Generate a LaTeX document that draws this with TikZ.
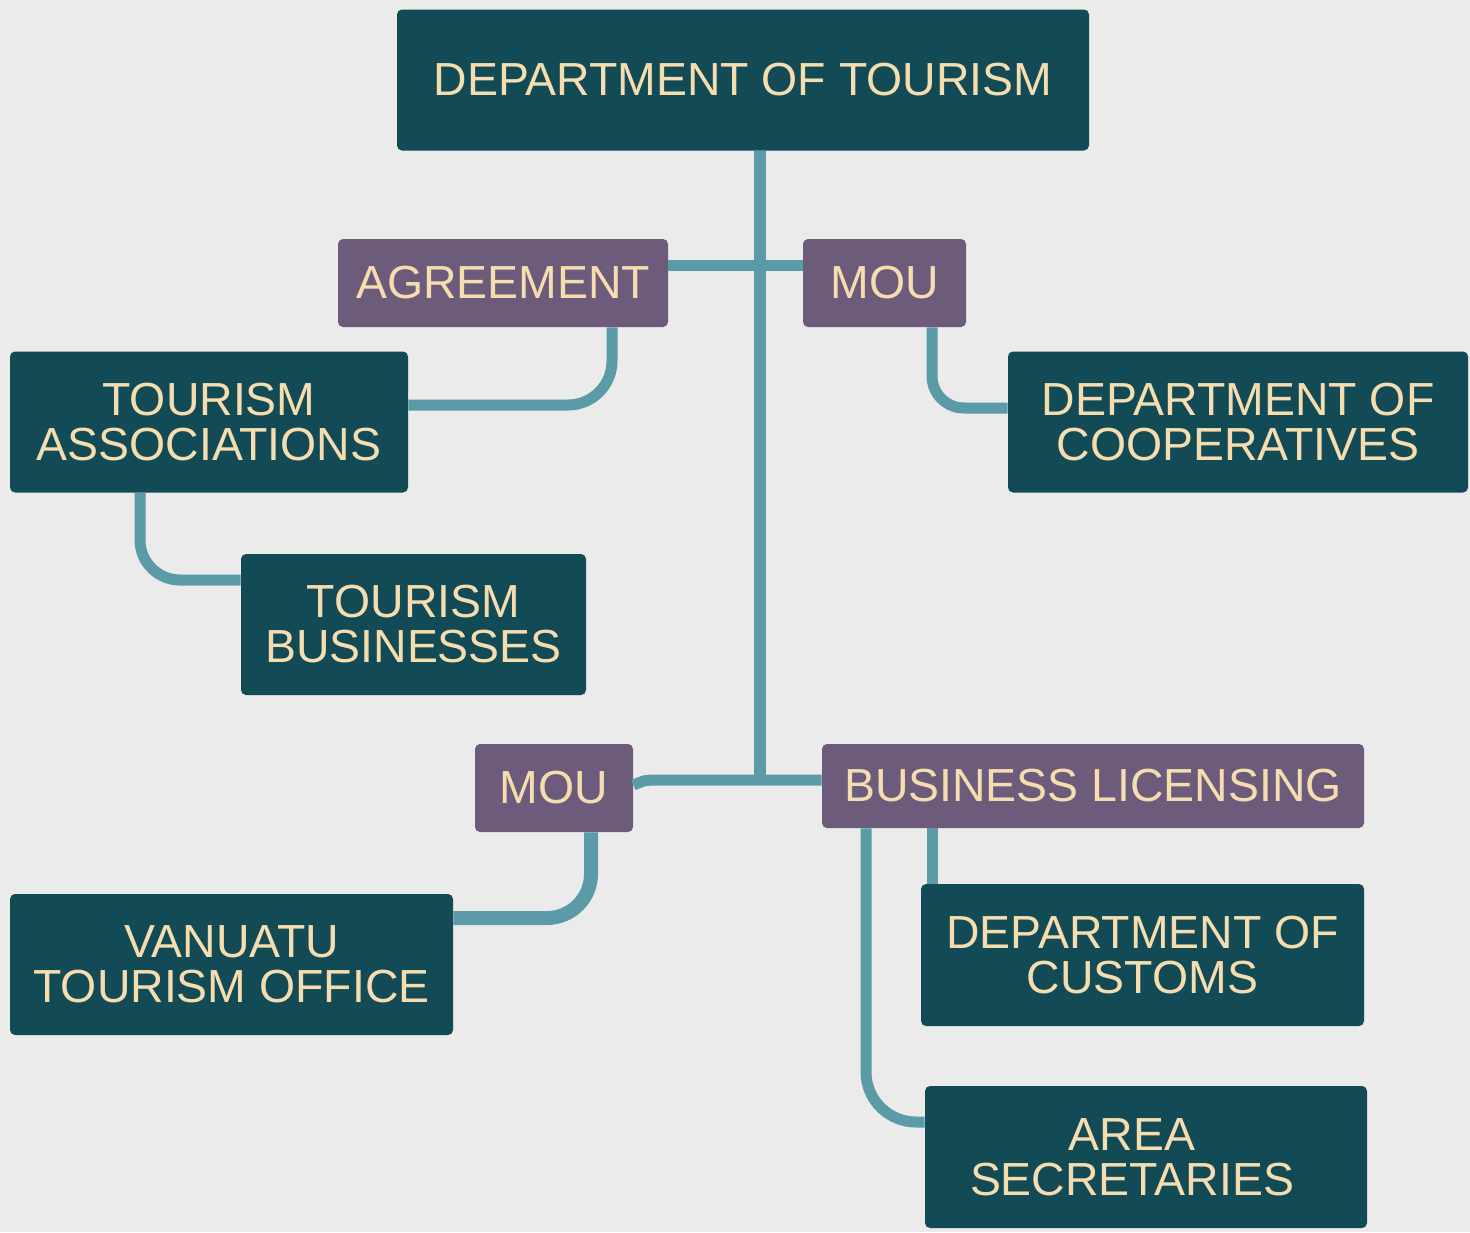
\documentclass[tikz,border=0pt]{standalone}
\usepackage{fontspec}
\setmainfont{Liberation Sans}
\definecolor{bgc}{HTML}{EBEBEB}
\definecolor{darkbox}{HTML}{124A55}
\definecolor{purplebox}{HTML}{6C5B7B}
\definecolor{creamtxt}{HTML}{F5DDB0}
\definecolor{connc}{HTML}{5B9BA7}
\begin{document}
\begin{tikzpicture}[x=0.5pt,y=-0.5pt,
  basebox/.style={rectangle, rounded corners=2.5pt, inner sep=0pt, align=center,
    text=creamtxt, font=\fontsize{23.2}{22.5}\selectfont},
  darkb/.style={basebox, fill=darkbox},
  purpb/.style={basebox, fill=purplebox},
  conn/.style={draw=connc, line width=5.5pt},
  trunk/.style={draw=connc, line width=6pt}]
\fill[bgc] (0,0) rectangle (1470,1232);
\useasboundingbox (0,0) rectangle (1470,1232);

% nodes
\node[darkb, minimum width=346pt, minimum height=70.5pt] (top) at (743,80) {DEPARTMENT OF TOURISM};
\node[purpb, minimum width=165pt, minimum height=44pt] (agree) at (503,283) {AGREEMENT};
\node[purpb, minimum width=81.5pt, minimum height=44pt] (mouA) at (884.5,283) {MOU};
\node[darkb, minimum width=199pt, minimum height=70.5pt] (ta) at (209,422) {TOURISM\\ASSOCIATIONS};
\node[darkb, minimum width=230pt, minimum height=70.5pt] (coop) at (1238,422) {DEPARTMENT OF\\COOPERATIVES};
\node[darkb, minimum width=172.5pt, minimum height=70.5pt] (tb) at (413.5,624.5) {TOURISM\\BUSINESSES};
\node[purpb, minimum width=79pt, minimum height=44pt] (mouB) at (554,788) {MOU};
\node[purpb, minimum width=271pt, minimum height=42pt] (bl) at (1093,786) {BUSINESS LICENSING};
\node[darkb, minimum width=221.5pt, minimum height=70.5pt] (vto) at (231.5,964.5) {VANUATU\\TOURISM OFFICE};
\node[darkb, minimum width=221.5pt, minimum height=71pt] (cust) at (1142.5,955) {DEPARTMENT OF\\CUSTOMS};
\node[darkb, minimum width=221pt, minimum height=71pt] (area) at (1146,1157) {\hspace*{-14pt}AREA\\\hspace*{-14pt}SECRETARIES};

\coordinate (trunkend) at (760,780);

% connectors
\draw[trunk] ([xshift=8.5pt]top.south) -- ([yshift=-1.5pt]trunkend);
\draw[conn] ([yshift=9pt]agree.east) -- ([yshift=9pt]mouA.west);
\draw[conn] ([yshift=1.5pt]mouB.east) .. controls +(6pt,2.5pt) .. ++(12pt,2.5pt) -- (bl.west |- trunkend);
\draw[conn, rounded corners=22pt] ([xshift=54.5pt]agree.south) |- ([yshift=8.5pt]ta.east);
\draw[conn, rounded corners=16pt] ([xshift=23.75pt]mouA.south) |- ([yshift=7pt]coop.west);
\draw[conn, rounded corners=20pt] ([xshift=-34.5pt]ta.south) |- ([yshift=22.25pt]tb.west);
\draw[conn, line width=7pt, rounded corners=22pt] ([xshift=18.5pt]mouB.south) |- ([yshift=23.25pt]vto.east);
\draw[conn] ([xshift=-80.5pt]bl.south) -- ([xshift=-105.25pt]cust.north);
\draw[conn, rounded corners=25pt] ([xshift=-113.5pt]bl.south) |- ([yshift=17.5pt]area.west);
\end{tikzpicture}
\end{document}
